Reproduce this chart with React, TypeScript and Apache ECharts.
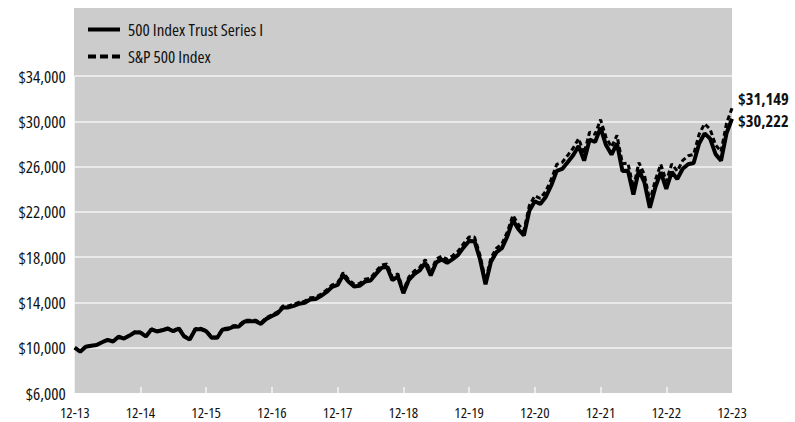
import React, { useEffect, useRef } from "react";
import * as echarts from "echarts";

// Growth of $10,000, month-end values, Dec 2013 through Dec 2023
const startYear = 2013;
const endYear = 2023;

const fundName = "500 Index Trust Series I";
const indexName = "S&P 500 Index";

const fundValues = [
  10000, 9652, 10090, 10172, 10245, 10483, 10697, 10547, 10966, 10810, 11070, 11366, 11335,
  10992, 11622, 11435, 11542, 11687, 11459, 11697, 10988, 10714, 11615, 11647, 11460,
  10889, 10872, 11607, 11650, 11856, 11884, 12320, 12333, 12332, 12105, 12550, 12796,
  13035, 13549, 13562, 13698, 13887, 13970, 14254, 14295, 14586, 14923, 15377, 15544,
  16430, 15819, 15414, 15468, 15837, 15931, 16520, 17054, 17147, 15970, 16292, 14817,
  16000, 16509, 16825, 17503, 16387, 17537, 17785, 17500, 17823, 18205, 18861, 19426,
  19413, 17811, 15607, 17604, 18437, 18799, 19854, 21276, 20462, 19914, 22089, 22931,
  22693, 23314, 24328, 25621, 25794, 26389, 27009, 27823, 26523, 28375, 28172, 29427,
  27898, 27057, 28054, 25601, 25640, 23520, 25682, 24628, 22354, 24159, 25503, 24028,
  25530, 24901, 25807, 26203, 26310, 28041, 28934, 28466, 27101, 26525, 28940, 30222,
];

const indexValues = [
  10000, 9654, 10095, 10180, 10255, 10496, 10713, 10565, 10988, 10834, 11098, 11397, 11369,
  11028, 11662, 11478, 11588, 11737, 11510, 11752, 11043, 10770, 11679, 11714, 11529,
  10957, 10943, 11685, 11731, 11942, 11973, 12415, 12432, 12434, 12208, 12660, 12911,
  13156, 13678, 13694, 13835, 14030, 14117, 14408, 14453, 14751, 15095, 15558, 15731,
  16632, 16018, 15611, 15670, 16048, 16147, 16748, 17294, 17393, 16203, 16534, 15041,
  16246, 16767, 17092, 17785, 16655, 17829, 18086, 17800, 18133, 18527, 19199, 19779,
  19771, 18144, 15903, 17942, 18796, 19170, 20251, 21707, 20882, 20327, 22553, 23419,
  23182, 23822, 24865, 26193, 26376, 26991, 27633, 28473, 27149, 29052, 28852, 30145,
  28586, 27731, 28760, 26252, 26299, 24130, 26355, 25280, 22952, 24811, 26198, 24689,
  26239, 25599, 26538, 26952, 27068, 28857, 29783, 29309, 27911, 27325, 29820, 31149,
];

const yMin = 6000;
const yMax = 34000;
const yStep = 4000;

// Month labels "MM-YY"; only the December ones are printed
const months: string[] = ["12-" + String(startYear).slice(2)];
for (let y = startYear + 1; y <= endYear; y++) {
  for (let m = 1; m <= 12; m++) months.push(`${String(m).padStart(2, "0")}-${String(y).slice(2)}`);
}

const FONT = "'Open Sans', sans-serif";
const PLOT_BG = "#cccccc";
const GRID_LINE = "#f4f4f4";
const money = (v: number) => "$" + Math.round(v).toLocaleString("en-US");
const isYearEnd = (i: number) => i % 12 === 0;

export default function App() {
  const ref = useRef<HTMLDivElement>(null);

  useEffect(() => {
    if (!ref.current) return;
    const chart = echarts.init(ref.current, null, { renderer: "svg" });
    const width = 795;
    const gridLeft = 74;
    const gridRight = 63;
    const gridTop = 76;
    const gridBottom = 29;
    const plotTop = 8;

    const endLabel = (dy: number) => ({
      show: true,
      formatter: (p: any) => money(p.value),
      fontFamily: FONT,
      fontWeight: "bold",
      fontSize: 16.5,
      lineHeight: 16,
      color: "#111",
      distance: 6,
      offset: [0, dy],
    });

    chart.setOption({
      animation: false,
      textStyle: { fontFamily: FONT, color: "#111" },
      grid: {
        left: gridLeft,
        right: gridRight,
        top: gridTop,
        bottom: gridBottom,
        show: true,
        backgroundColor: PLOT_BG,
        borderWidth: 0,
      },
      // shaded band above the top gridline that holds the legend
      graphic: [
        {
          type: "rect",
          silent: true,
          z: -10,
          shape: {
            x: gridLeft,
            y: plotTop,
            width: width - gridLeft - gridRight,
            height: gridTop - plotTop,
          },
          style: { fill: PLOT_BG },
        },
      ],
      legend: {
        orient: "vertical",
        left: 88,
        top: 21,
        padding: 0,
        itemWidth: 32,
        itemHeight: 4,
        itemGap: 10,
        textStyle: { fontFamily: FONT, fontSize: 17, color: "#111", padding: [0, 0, 0, 3] },
        data: [
          { name: fundName, icon: "rect", itemStyle: { color: "#000", borderWidth: 0 } },
          {
            name: indexName,
            icon: "path://M0,0H8V4H0Z M12,0H20V4H12Z M24,0H32V4H24Z",
            itemStyle: { color: "#000", borderWidth: 0 },
          },
        ],
      },
      xAxis: {
        type: "category",
        data: months,
        boundaryGap: false,
        axisLine: { show: false },
        axisTick: {
          show: true,
          inside: true,
          length: 6,
          interval: (i: number) => isYearEnd(i) && i > 0 && i < months.length - 1,
          lineStyle: { color: GRID_LINE, width: 1.5 },
        },
        axisLabel: {
          interval: (i: number) => isYearEnd(i),
          fontFamily: FONT,
          fontSize: 15,
          lineHeight: 14,
          color: "#111",
          margin: 12,
        },
        splitLine: { show: false },
      },
      yAxis: {
        type: "value",
        min: yMin,
        max: yMax,
        interval: yStep,
        axisLine: { show: false },
        axisTick: { show: false },
        axisLabel: {
          formatter: (v: number) => money(v),
          fontFamily: FONT,
          fontSize: 17,
          color: "#111",
          margin: 9,
        },
        splitLine: { show: true, showMinLine: false, lineStyle: { color: GRID_LINE, width: 1.5 } },
      },
      series: [
        {
          name: fundName,
          type: "line",
          data: fundValues,
          showSymbol: false,
          z: 3,
          lineStyle: { color: "#000", width: 4 },
          itemStyle: { color: "#000" },
          endLabel: endLabel(1.8),
        },
        {
          name: indexName,
          type: "line",
          data: indexValues,
          showSymbol: false,
          z: 4,
          lineStyle: { color: "#000", width: 3, type: [5, 3] },
          itemStyle: { color: "#000" },
          endLabel: endLabel(-10),
        },
      ],
    });
    return () => chart.dispose();
  }, []);

  return (
    <>
      <style>{"#root svg text { font-stretch: condensed !important; }"}</style>
      <div ref={ref} style={{ position: "absolute", left: 0, top: 0, width: 795, height: 422 }} />
    </>
  );
}
